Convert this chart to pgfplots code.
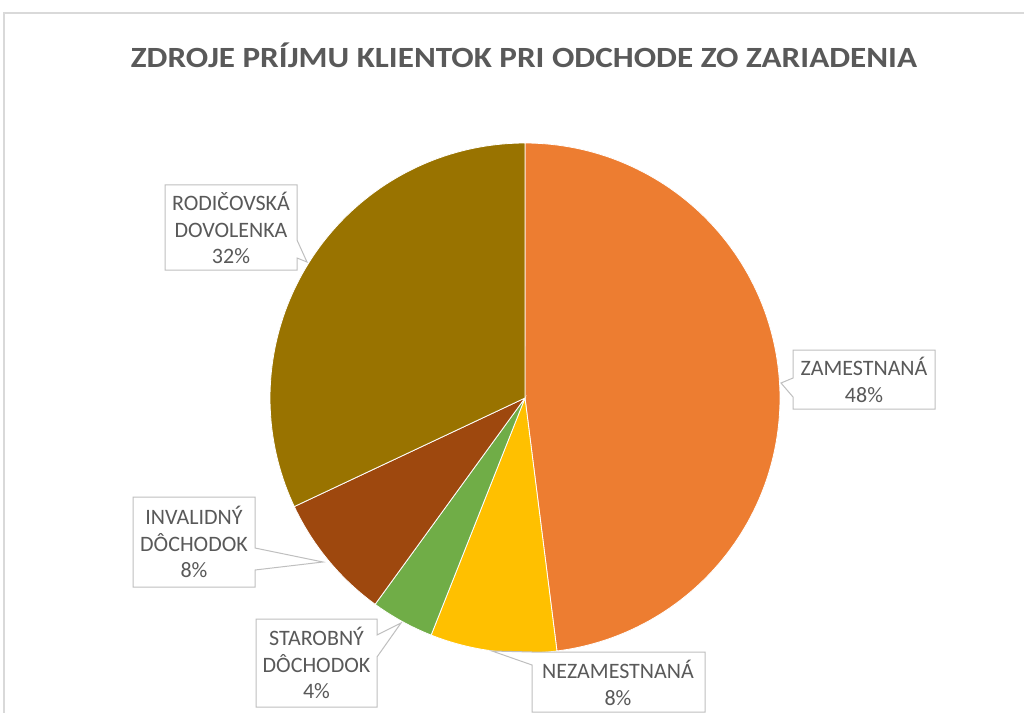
\documentclass[border=0pt]{standalone}
\usepackage{pgfplots}
\pgfplotsset{compat=1.18}
\usepackage{fontspec}
\setmainfont{Carlito}
\definecolor{cZam}{HTML}{ED7D31}
\definecolor{cNez}{HTML}{FFC000}
\definecolor{cSta}{HTML}{70AD47}
\definecolor{cInv}{HTML}{9E480E}
\definecolor{cRod}{HTML}{997300}
\definecolor{txt}{HTML}{595959}
\definecolor{brd}{HTML}{BFBFBF}
\definecolor{frm}{HTML}{D9D9D9}
\begin{document}
\begin{tikzpicture}
\begin{axis}[name=ax, scale only axis, width=768pt, height=534.75pt,
  xmin=0, xmax=1024, ymin=0, ymax=713, y dir=reverse, hide axis, clip=false]
% chart frame
\draw[frm, line width=1pt] (4,713) -- (4,13) -- (1024,13);
% pie slices (percent values: 48, 8, 4, 8, 32; angles = 3.6*percent, clockwise from top)
\addplot[draw=white, line width=0.6pt, fill=cZam, domain=0:172.8, samples=120, variable=\t]
  ({525+255*sin(t)},{398-255*cos(t)}) -- (525,398) -- cycle;
\addplot[draw=white, line width=0.6pt, fill=cNez, domain=172.8:201.6, samples=30, variable=\t]
  ({525+255*sin(t)},{398-255*cos(t)}) -- (525,398) -- cycle;
\addplot[draw=white, line width=0.6pt, fill=cSta, domain=201.6:216, samples=20, variable=\t]
  ({525+255*sin(t)},{398-255*cos(t)}) -- (525,398) -- cycle;
\addplot[draw=white, line width=0.6pt, fill=cInv, domain=216:244.8, samples=30, variable=\t]
  ({525+255*sin(t)},{398-255*cos(t)}) -- (525,398) -- cycle;
\addplot[draw=white, line width=0.6pt, fill=cRod, domain=244.8:360, samples=90, variable=\t]
  ({525+255*sin(t)},{398-255*cos(t)}) -- (525,398) -- cycle;
% title
\node[txt, xscale=1.13, font=\fontsize{22}{26}\selectfont\bfseries] at (524,55) {ZDROJE PRÍJMU KLIENTOK PRI ODCHODE ZO ZARIADENIA};
% callouts
\tikzset{lab/.style={txt, align=center, font=\fontsize{16.5}{20}\selectfont}}
\draw[brd, fill=white, line width=0.75pt] (793,350) -- (935,350) -- (935,409) -- (793,409) -- (793,397) -- (781,383) -- (793,378) -- cycle;
\node[lab] at (864,380) {ZAMESTNANÁ\\48\%};
\draw[brd, fill=white, line width=0.75pt] (532,652) -- (705,652) -- (705,712) -- (532,712) -- (532,665) -- (492,651) -- cycle;
\node[lab] at (618,683) {NEZAMESTNANÁ\\8\%};
\draw[brd, fill=white, line width=0.75pt] (256,619) -- (377,619) -- (377,635) -- (401,623) -- (377,657) -- (377,707) -- (256,707) -- cycle;
\node[lab] at (316.5,663) {STAROBNÝ\\DÔCHODOK\\4\%};
\draw[brd, fill=white, line width=0.75pt] (133,497) -- (255,497) -- (255,548) -- (323,562) -- (255,570) -- (255,587) -- (133,587) -- cycle;
\node[lab] at (194,542) {INVALIDNÝ\\DÔCHODOK\\8\%};
\draw[brd, fill=white, line width=0.75pt] (165,185) -- (297,185) -- (297,240) -- (307,262) -- (297,258) -- (297,270) -- (165,270) -- cycle;
\node[lab] at (231,228) {RODIČOVSKÁ\\DOVOLENKA\\32\%};
\end{axis}
\pgfresetboundingbox
\path[use as bounding box] (ax.south west) rectangle (ax.north east);
\end{tikzpicture}
\end{document}
